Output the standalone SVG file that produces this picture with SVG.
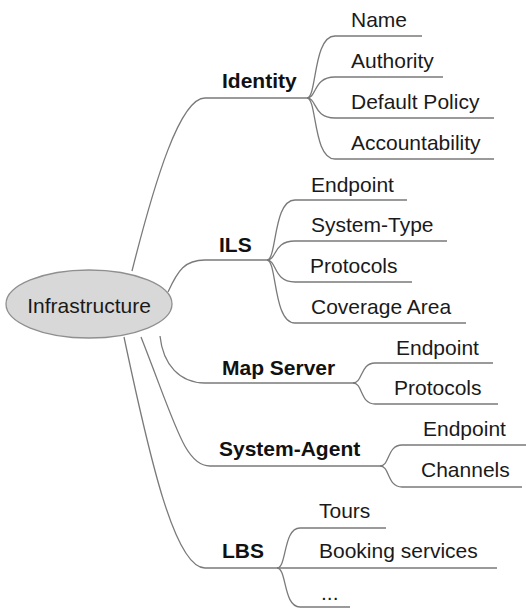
<svg xmlns="http://www.w3.org/2000/svg" width="526" height="609" viewBox="0 0 526 609">
<style>
.c{fill:none;stroke:#7a7a7a;stroke-width:1.3}
.t{font-family:"Liberation Sans",Arial,sans-serif;font-size:21px;fill:#1a1a1a}
.b{font-family:"Liberation Sans",Arial,sans-serif;font-size:21px;font-weight:bold;fill:#111}
</style>
<rect width="526" height="609" fill="#fff"/>
<g id="connectors">
<path class="c" d="M132,271 C155,180 180,98 205,98 L307,98"/>
<path class="c" d="M168,292 C178,270 185,260 205,260 L267,260"/>
<path class="c" d="M160,336 C163,365 180,383 205,383 L353,383"/>
<path class="c" d="M141,337 C176,426 185,466 210,466 L380,466"/>
<path class="c" d="M124,337 C150,460 175,568 205,568 L497,568"/>
<path class="c" d="M307,98 C317,98 313,36 335,36 L422,36"/>
<path class="c" d="M307,98 C317,98 313,77 335,77 L443,77"/>
<path class="c" d="M307,98 C317,98 313,118 335,118 L494,118"/>
<path class="c" d="M307,98 C317,98 313,159 335,159 L494,159"/>
<path class="c" d="M267,260 C277,260 273,200 295,200 L407,200"/>
<path class="c" d="M267,260 C277,260 273,241 295,241 L447,241"/>
<path class="c" d="M267,260 C277,260 273,282 295,282 L412,282"/>
<path class="c" d="M267,260 C277,260 273,323 295,323 L466,323"/>
<path class="c" d="M353,383 C363,383 360,363 375,363 L493,363"/>
<path class="c" d="M353,383 C363,383 360,404 375,404 L498,404"/>
<path class="c" d="M380,466 C390,466 387,445 402,445 L526,445"/>
<path class="c" d="M380,466 C390,466 387,487 402,487 L522,487"/>
<path class="c" d="M277,568 C287,568 283,528 300,528 L386,528"/>
<path class="c" d="M277,568 C287,568 283,607 300,607 L350,607"/>
</g>
<g id="infrastructure">
<ellipse cx="89" cy="304" rx="83" ry="34" fill="#d8d8d8" stroke="#8f8f8f" stroke-width="1.3"/>
<text class="t" x="89" y="313" text-anchor="middle">Infrastructure</text>
</g>
<g id="identity"><text class="b" x="222" y="88">Identity</text></g>
<g id="identity-name"><text class="t" x="351" y="27">Name</text></g>
<g id="identity-authority"><text class="t" x="351" y="68">Authority</text></g>
<g id="identity-default-policy"><text class="t" x="351" y="109">Default Policy</text></g>
<g id="identity-accountability"><text class="t" x="351" y="150">Accountability</text></g>
<g id="ils"><text class="b" x="219" y="252">ILS</text></g>
<g id="ils-endpoint"><text class="t" x="311" y="192">Endpoint</text></g>
<g id="ils-system-type"><text class="t" x="311" y="232">System-Type</text></g>
<g id="ils-protocols"><text class="t" x="310" y="273">Protocols</text></g>
<g id="ils-coverage-area"><text class="t" x="311" y="314">Coverage Area</text></g>
<g id="map-server"><text class="b" x="222" y="375">Map Server</text></g>
<g id="map-server-endpoint"><text class="t" x="396" y="355">Endpoint</text></g>
<g id="map-server-protocols"><text class="t" x="394" y="395">Protocols</text></g>
<g id="system-agent"><text class="b" x="219" y="456">System-Agent</text></g>
<g id="system-agent-endpoint"><text class="t" x="423" y="436">Endpoint</text></g>
<g id="system-agent-channels"><text class="t" x="421" y="477">Channels</text></g>
<g id="lbs"><text class="b" x="222" y="558">LBS</text></g>
<g id="lbs-tours"><text class="t" x="319" y="518">Tours</text></g>
<g id="lbs-booking"><text class="t" x="319" y="558">Booking services</text></g>
<g id="lbs-more"><text class="t" x="321" y="600">...</text></g>
</svg>
